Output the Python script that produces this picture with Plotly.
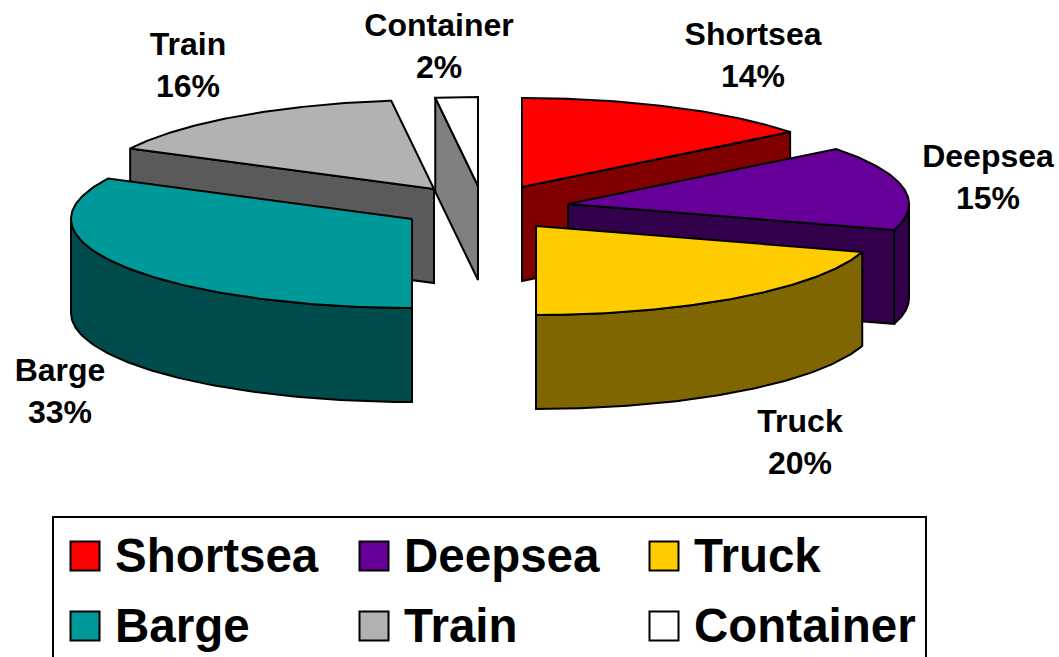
import numpy as np
import plotly.graph_objects as go

# ---- data ----
categories = ["Shortsea", "Deepsea", "Truck", "Barge", "Train", "Container"]
shares = [14.4, 15.3, 20.3, 32.5, 15.5, 2.0]      # angular share of each drawn slice
printed_percent = [14, 15, 20, 33, 16, 2]         # percentages as printed on the chart

# ---- styles ----
top_colors = ["#FF0000", "#660099", "#FFCC00", "#009999", "#B2B2B2", "#FFFFFF"]
side_colors = ["#800000", "#33004C", "#806600", "#004C4C", "#5A5A5A", "#808080"]

# ---- layout (pixel-based frame) ----
W, H = 1059, 657
RX, RY, DEPTH = 341, 89, 94
apex = {"Shortsea": (522, 187), "Deepsea": (568, 204), "Truck": (536, 226),
        "Barge": (412, 219), "Train": (434, 189), "Container": (478, 186)}
label_pos = {"Shortsea": (753, 58), "Deepsea": (988, 180), "Truck": (800, 445),
             "Barge": (60, 394), "Train": (188, 68), "Container": (439, 49)}
legend_pos = {"Shortsea": (85, 556), "Deepsea": (374, 556), "Truck": (664, 556),
              "Barge": (85, 626), "Train": (374, 626), "Container": (664, 626)}
LEGEND_TEXT_DX = 30
LEGEND_TEXT_DY = 4
draw_order = ["Container", "Train", "Shortsea", "Deepsea", "Barge", "Truck"]

ends = np.cumsum(shares) / sum(shares) * 2 * np.pi
starts = np.concatenate([[0.0], ends[:-1]])
span = {c: (s, e) for c, s, e in zip(categories, starts, ends)}


def rim(cx, cy, t):
    return cx + RX * np.sin(t), cy - RY * np.cos(t)


fig = go.Figure()


def poly(xs, ys, color):
    fig.add_trace(go.Scatter(
        x=list(xs) + [xs[0]], y=list(ys) + [ys[0]], mode="lines", fill="toself",
        fillcolor=color, line=dict(color="black", width=2, shape="linear"),
        hoverinfo="skip", showlegend=False))


for name in draw_order:
    i = categories.index(name)
    t0, t1 = span[name]
    cx, cy = apex[name]
    side, top = side_colors[i], top_colors[i]
    # radial cut faces turned towards the viewer
    for t, visible in ((t0, np.sin(t0) < -1e-6), (t1, np.sin(t1) > 1e-6)):
        if visible:
            ex, ey = rim(cx, cy, t)
            poly([cx, ex, ex, cx], [cy, ey, ey + DEPTH, cy + DEPTH], side)
    # outer wall: only the front half of the ellipse
    a, b = max(t0, np.pi / 2), min(t1, 3 * np.pi / 2)
    if b > a:
        t = np.linspace(a, b, 90)
        rx, ry = rim(cx, cy, t)
        poly(np.concatenate([rx, rx[::-1]]), np.concatenate([ry, ry[::-1] + DEPTH]), side)
    # top surface
    t = np.linspace(t0, t1, 120)
    rx, ry = rim(cx, cy, t)
    poly(np.concatenate([[cx], rx]), np.concatenate([[cy], ry]), top)

# data labels
for name, pct in zip(categories, printed_percent):
    x, y = label_pos[name]
    fig.add_trace(go.Scatter(
        x=[x], y=[y], mode="text", text=[f"<b>{name}<br>{pct}%</b>"],
        textposition="middle center",
        textfont=dict(family="Liberation Sans", size=32, color="black"),
        hoverinfo="skip", showlegend=False))

# legend entries
for name, color in zip(categories, top_colors):
    x, y = legend_pos[name]
    fig.add_trace(go.Scatter(
        x=[x], y=[y], mode="markers", name=name,
        marker=dict(symbol="square", size=29, color=color, line=dict(color="black", width=2)),
        hoverinfo="skip", showlegend=False))
    fig.add_trace(go.Scatter(
        x=[x + LEGEND_TEXT_DX], y=[y + LEGEND_TEXT_DY], mode="text", text=[f"<b>{name}</b>"],
        textposition="middle right",
        textfont=dict(family="Liberation Sans", size=47.5, color="black"),
        hoverinfo="skip", showlegend=False))

fig.update_layout(
    width=W, height=H, autosize=False,
    margin=dict(l=0, r=0, t=0, b=0),
    paper_bgcolor="white", plot_bgcolor="white", showlegend=False,
    xaxis=dict(range=[0, W], visible=False, fixedrange=True),
    yaxis=dict(range=[H, 0], visible=False, fixedrange=True),
    shapes=[dict(type="rect", xref="x", yref="y", x0=53, y0=517, x1=926, y1=680,
                 line=dict(color="black", width=2), fillcolor="rgba(0,0,0,0)", layer="below")],
)
fig.write_html("out.html", config={"displayModeBar": False},
               post_script="document.body.style.margin='0';document.body.style.overflow='hidden';")
